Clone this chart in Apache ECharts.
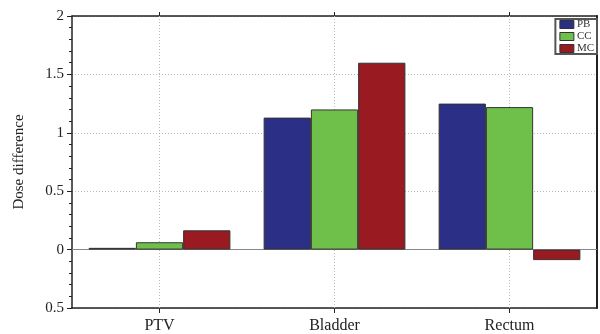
<!DOCTYPE html>
<html>
<head>
<meta charset="utf-8">
<script src="https://cdn.jsdelivr.net/npm/echarts@6/dist/echarts.min.js"></script>
<style>html,body{margin:0;padding:0;background:#fff}#c{width:600px;height:334px}</style>
</head>
<body>
<div id="c"></div>
<script>
const categories = ['PTV', 'Bladder', 'Rectum'];
const seriesNames = ['PB', 'CC', 'MC'];
const pbValues = [0.015, 1.13, 1.25];
const ccValues = [0.063, 1.2, 1.22];
const mcValues = [0.165, 1.6, -0.09];
const yTicks = [2, 1.5, 1, 0.5, 0, -0.5];
const yTickLabels = ['2', '1.5', '1', '0.5', '0', '0.5'];
const colors = ['#2b3086', '#6fc04b', '#991b21'];

const font = 'Liberation Serif, Times New Roman, serif';
const chart = echarts.init(document.getElementById('c'));
const values = [pbValues, ccValues, mcValues];

const series = seriesNames.map((n, i) => ({
  name: n,
  type: 'bar',
  data: values[i],
  barGap: '0%',
  barCategoryGap: '19%',
  itemStyle: { color: colors[i], borderColor: '#333', borderWidth: 1 },
  z: 3
}));
series.push({
  name: '_grid',
  type: 'line',
  data: [],
  silent: true,
  z: 1,
  markLine: {
    silent: true,
    symbol: 'none',
    z: 1,
    label: { show: false },
    data: categories.map(c => ({ xAxis: c, lineStyle: { type: [1, 2], color: '#bbb', width: 1 } }))
      .concat([{ yAxis: 0, lineStyle: { type: 'solid', color: '#888', width: 1 } }])
  }
});

chart.setOption({
  animation: false,
  backgroundColor: '#fff',
  grid: { left: 72, right: 3, top: 16, bottom: 26 },
  legend: {
    data: seriesNames,
    orient: 'vertical',
    right: 3,
    top: 19,
    itemWidth: 14,
    itemHeight: 8,
    itemGap: 1,
    icon: 'rect',
    backgroundColor: '#fff',
    borderColor: '#555',
    borderWidth: 2,
    borderRadius: 0,
    padding: [0, 3, 0, 4],
    textStyle: { fontFamily: font, fontSize: 11, lineHeight: 10, height: 10, color: '#333', padding: [0, 0, 0, -2] },
    itemStyle: { borderColor: '#333', borderWidth: 1 }
  },
  xAxis: [{
    type: 'category',
    data: categories,
    position: 'bottom',
    axisLine: { show: true, onZero: false, lineStyle: { color: '#222', width: 1.5 } },
    axisTick: { show: true, alignWithLabel: true, length: 5, lineStyle: { color: '#222' } },
    axisLabel: { fontFamily: font, fontSize: 16, color: '#222', margin: 10 },
    splitLine: { show: false }
  }, {
    type: 'category',
    data: categories,
    position: 'top',
    axisLine: { show: true, onZero: false, lineStyle: { color: '#222', width: 1.5 } },
    axisTick: { show: true, alignWithLabel: true, length: 4, lineStyle: { color: '#222' } },
    axisLabel: { show: false },
    splitLine: { show: false }
  }],
  yAxis: [{
    type: 'value',
    min: -0.5,
    max: 2,
    interval: 0.5,
    name: 'Dose difference',
    nameLocation: 'middle',
    nameGap: 45,
    nameTextStyle: { fontFamily: font, fontSize: 15, color: '#222' },
    axisLine: { show: true, lineStyle: { color: '#222', width: 1.5 } },
    axisTick: { show: true, length: 5, lineStyle: { color: '#222' } },
    minorTick: { show: true, splitNumber: 5, length: 3, lineStyle: { color: '#222' } },
    axisLabel: {
      fontFamily: font, fontSize: 15, color: '#222', margin: 8,
      formatter: v => { const k = yTicks.findIndex(t => Math.abs(t - v) < 1e-9); return k >= 0 ? yTickLabels[k] : ''; }
    },
    splitLine: { show: true, lineStyle: { type: [1, 2], color: '#bbb', width: 1 } }
  }, {
    type: 'value',
    min: -0.5,
    max: 2,
    interval: 0.5,
    position: 'right',
    axisLine: { show: true, lineStyle: { color: '#222', width: 2 } },
    axisTick: { show: false },
    axisLabel: { show: false },
    splitLine: { show: false }
  }],
  series: series
});
</script>
</body>
</html>
